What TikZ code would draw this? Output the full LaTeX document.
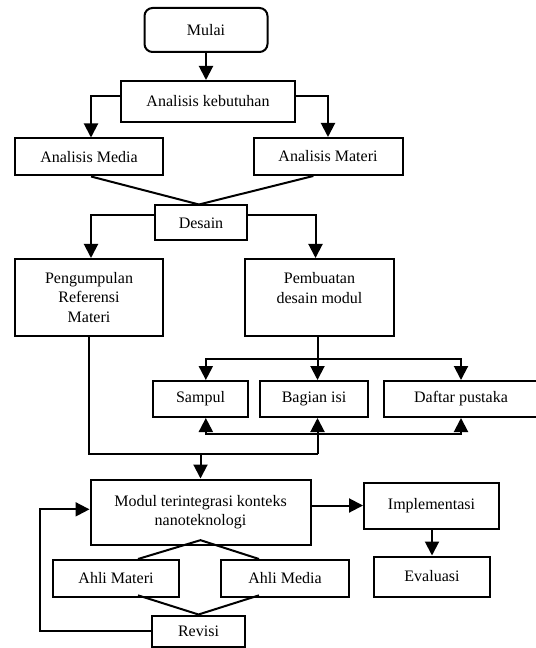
\documentclass[tikz,border=0pt]{standalone}
\usepackage{fontspec}
\setmainfont{Liberation Serif}
\usetikzlibrary{arrows.meta}
\begin{document}
\begin{tikzpicture}[x=0.75pt,y=-0.75pt,
  box/.style={draw,line width=1.5pt,inner sep=0pt,align=center,font=\fontsize{12}{14.5}\selectfont},
  ln/.style={line width=1.5pt},
  arr/.style={ln,-{Triangle[width=10.5pt,length=10.5pt]}}]
\useasboundingbox (0,0) rectangle (535,648);
% nodes
\node[box,rounded corners=6pt,minimum width=92.25pt,minimum height=33pt] (mulai) at (206,30) {Mulai};
\node[box,minimum width=130.5pt,minimum height=30.75pt] (ak) at (208,101.5) {Analisis kebutuhan};
\node[box,minimum width=111pt,minimum height=27.75pt] (am) at (89,157) {Analisis Media};
\node[box,minimum width=111.75pt,minimum height=27.75pt] (amt) at (328,156.5) {Analisis Materi};
\node[box,minimum width=69pt,minimum height=26.25pt] (desain) at (201,223) {Desain};
\node[box,minimum width=111pt,minimum height=57.75pt] (peng) at (89,297.5) {Pengumpulan\\Referensi\\Materi};
\node[box,minimum width=111.75pt,minimum height=57.75pt] (pemb) at (319.5,297.5) {Pembuatan\\desain modul\\~};
\node[box,minimum width=71.25pt,minimum height=27pt] (sampul) at (200.5,399) {Sampul};
\node[box,minimum width=81pt,minimum height=27pt] (bagian) at (314,399) {Bagian isi};
\node[box,minimum width=115.5pt,minimum height=27pt] (daftar) at (461,399) {Daftar pustaka};
\node[box,minimum width=165pt,minimum height=48.75pt] (modul) at (200.5,512) {Modul terintegrasi konteks\\nanoteknologi};
\node[box,minimum width=101.25pt,minimum height=34.5pt] (impl) at (431.5,505.5) {Implementasi};
\node[box,minimum width=87pt,minimum height=30pt] (eval) at (432,576.5) {Evaluasi};
\node[box,minimum width=94.5pt,minimum height=27.75pt] (ahlimat) at (116,578.5) {Ahli Materi};
\node[box,minimum width=96pt,minimum height=27.75pt] (ahlimed) at (285,578.5) {Ahli Media};
\node[box,minimum width=69.75pt,minimum height=23.25pt] (revisi) at (198.5,631) {Revisi};
% coordinates
\path (pemb.south) ++(-2,22) coordinate (br);
\coordinate (lo) at (br |- 0,434);
\coordinate (jn) at (br |- 0,454);
\coordinate (ap) at ([yshift=4pt]modul.south);
% connectors
\draw[arr] (mulai.south) -- (mulai.south |- ak.north);
\draw[arr] ([yshift=3.75pt]ak.west) -| ([xshift=1.5pt]am.north);
\draw[arr] ([yshift=3.75pt]ak.east) -| (amt.north);
\draw[ln] ([xshift=1.5pt]am.south) -- ([xshift=-1.5pt]desain.north);
\draw[ln] ([xshift=-11pt]amt.south) -- ([xshift=-1.5pt]desain.north);
\draw[arr] ([yshift=6pt]desain.west) -| ([xshift=1.5pt]peng.north);
\draw[arr] ([yshift=6pt]desain.east) -| ([xshift=-3pt]pemb.north);
\draw[ln] (pemb.south -| br) -- (br);
\draw[arr] (br) -| ([xshift=4pt]sampul.north);
\draw[arr] (br) -- (br |- bagian.north);
\draw[arr] (br) -| (daftar.north);
\draw[arr] (lo) -| ([xshift=4pt]sampul.south);
\draw[arr] (lo) -| (daftar.south);
\draw[arr] (jn) -- (jn |- bagian.south);
\draw[ln] (peng.south) |- (jn);
\draw[arr] (modul.north |- jn) -- (modul.north);
\draw[arr] (modul.east |- impl.west) -- (impl.west);
\draw[arr] (impl.south -| eval.north) -- (eval.north);
\draw[ln] ([xshift=16.5pt]ahlimat.north) -- (ap) -- ([xshift=-19.5pt]ahlimed.north);
\draw[ln] ([xshift=16.5pt,yshift=2pt]ahlimat.south) -- (revisi.north) -- ([xshift=-19.5pt,yshift=2pt]ahlimed.south);
\draw[arr] (revisi.west) -- ++(-111,0) |- ([yshift=2pt]modul.west);
\end{tikzpicture}
\end{document}
